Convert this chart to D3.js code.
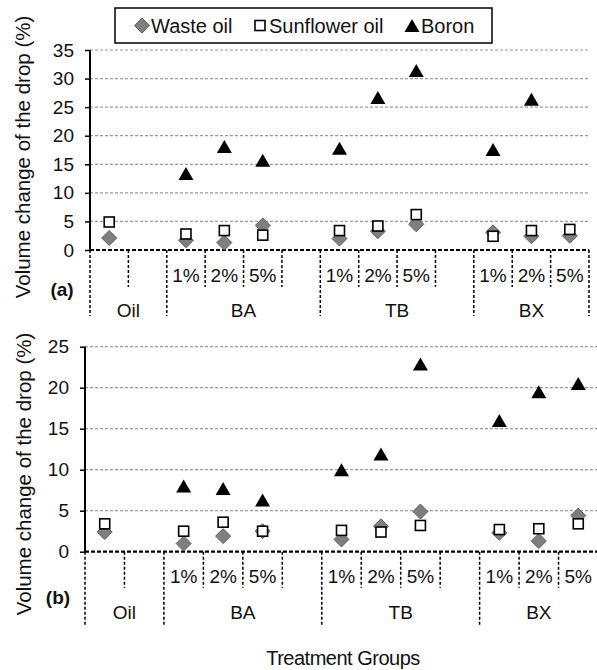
<!DOCTYPE html>
<html>
<head>
<meta charset="utf-8">
<script src="https://cdn.jsdelivr.net/npm/d3@7"></script>
<style>
  body { margin: 0; background: #fff; }
  text { font-family: "Liberation Sans", Arial, sans-serif; fill: #111; }
</style>
</head>
<body>
<div id="chart"></div>
<script>
// category slots of the multi-level axis (blank slots keep the Excel spacing)
var groups = ["Oil", "BA", "TB", "BX"];
var slotGroup = ["Oil", "Oil", "BA", "BA", "BA", "BA", "TB", "TB", "TB", "TB", "BX", "BX", "BX"];
var slotLabel = ["", "", "1%", "2%", "5%", "", "1%", "2%", "5%", "", "1%", "2%", "5%"];

// panel (a)
var wasteA     = [2.1, null, 1.7, 1.3, 4.3, null, 2.0, 3.3, 4.5, null, 3.1, 2.4, 2.5];
var sunflowerA = [4.9, null, 2.8, 3.4, 2.6, null, 3.4, 4.2, 6.2, null, 2.4, 3.4, 3.6];
var boronA     = [null, null, 13.4, 18.1, 15.7, null, 17.8, 26.7, 31.4, null, 17.6, 26.4, null];
var ticksA = [0, 5, 10, 15, 20, 25, 30, 35];

// panel (b)
var wasteB     = [2.4, null, 1.0, 1.9, 2.5, null, 1.5, 3.1, 4.9, null, 2.3, 1.3, 4.4];
var sunflowerB = [3.4, null, 2.5, 3.6, 2.5, null, 2.6, 2.4, 3.2, null, 2.7, 2.8, 3.4];
var boronB     = [null, null, 8.0, 7.7, 6.3, null, 10.0, 11.9, 22.9, null, 16.0, 19.5, 20.5];
var ticksB = [0, 5, 10, 15, 20, 25];

var seriesNames = ["Waste oil", "Sunflower oil", "Boron"];

var svgWidth = 597;
var svgHeight = 670;

var svg = d3.select("#chart")
  .append("svg")
  .attr("width", svgWidth)
  .attr("height", svgHeight);

var slots = d3.range(slotLabel.length);

// 0 = diamond, 1 = square, 2 = triangle (Excel style markers)
function drawMarker(g, type, x, y) {
  if (type == 0) {
    g.append("path")
      .attr("d", "M0,-7.5L7.5,0L0,7.5L-7.5,0Z")
      .attr("transform", `translate(${x},${y})`)
      .attr("fill", "#7f7f7f")
      .attr("stroke", "#5f5f5f")
      .attr("stroke-width", 1);
  } else if (type == 1) {
    g.append("rect")
      .attr("x", x - 5).attr("y", y - 5)
      .attr("width", 10).attr("height", 10)
      .attr("fill", "#fff")
      .attr("stroke", "#000")
      .attr("stroke-width", 1.6);
  } else {
    g.append("path")
      .attr("d", "M0,-6.5L7.5,6.5L-7.5,6.5Z")
      .attr("transform", `translate(${x},${y})`)
      .attr("fill", "#000");
  }
}

function panel(opt) {
  var g = svg.append("g");

  var x = d3.scaleBand()
    .domain(slots)
    .range([opt.left, opt.right])
    .paddingInner(0)
    .paddingOuter(0);

  var y = d3.scaleLinear()
    .domain([0, opt.max])
    .range([opt.bottom, opt.top]);

  // grid lines
  g.append("g")
    .selectAll("line")
    .data(opt.ticks.filter(d => d > 0))
    .enter()
    .append("line")
    .attr("x1", opt.left)
    .attr("x2", opt.right)
    .attr("y1", d => y(d))
    .attr("y2", d => y(d))
    .attr("stroke", "#9a9a9a")
    .attr("stroke-width", 1.2)
    .attr("stroke-dasharray", "3,2");

  // y axis
  var leftAxis = d3.axisLeft(y)
    .tickValues(opt.ticks)
    .tickSize(5)
    .tickPadding(11)
    .tickFormat(d3.format("d"));

  var yAxis = g.append("g")
    .attr("transform", `translate(${opt.left}, 0)`)
    .call(leftAxis);
  yAxis.select(".domain").attr("stroke", "#000").attr("stroke-width", 2)
    .attr("d", `M0,${opt.top}V${opt.bottom}`);
  yAxis.selectAll(".tick line").attr("stroke", "#000").attr("stroke-width", 1.5);
  yAxis.selectAll(".tick text")
    .style("font-family", "'Liberation Sans', Arial, sans-serif")
    .style("font-size", "19px")
    .attr("fill", "#111");

  // x axis line at zero
  g.append("line")
    .attr("x1", opt.left)
    .attr("x2", opt.right)
    .attr("y1", y(0))
    .attr("y2", y(0))
    .attr("stroke", "#000")
    .attr("stroke-width", 2.2)
    .attr("stroke-dasharray", "4,2");

  // category separators, long ones between groups
  var bounds = d3.range(slotLabel.length + 1);
  g.append("g")
    .selectAll("line")
    .data(bounds)
    .enter()
    .append("line")
    .attr("x1", i => i < slotLabel.length ? x(i) : opt.right)
    .attr("x2", i => i < slotLabel.length ? x(i) : opt.right)
    .attr("y1", y(0))
    .attr("y2", i => (i == 0 || i == slotLabel.length || slotGroup[i] != slotGroup[i - 1]) ? y(0) + opt.longTick : y(0) + opt.shortTick)
    .attr("stroke", "#000")
    .attr("stroke-width", 1.5)
    .attr("stroke-dasharray", "3,2");

  // subcategory labels
  g.append("g")
    .selectAll("text")
    .data(slots.filter(i => slotLabel[i] != ""))
    .enter()
    .append("text")
    .attr("x", i => x(i) + x.bandwidth() / 2)
    .attr("y", y(0) + opt.subY)
    .attr("text-anchor", "middle")
    .attr("dominant-baseline", "central")
    .style("font-size", "19px")
    .text(i => slotLabel[i]);

  // group labels
  g.append("g")
    .selectAll("text")
    .data(groups)
    .enter()
    .append("text")
    .attr("x", function(grp) {
      var idx = slots.filter(i => slotGroup[i] == grp);
      var a = x(idx[0]);
      var b = x(idx[idx.length - 1]) + x.bandwidth();
      return (a + b) / 2;
    })
    .attr("y", y(0) + opt.groupY)
    .attr("text-anchor", "middle")
    .attr("dominant-baseline", "central")
    .style("font-size", "19px")
    .text(d => d);

  // panel letter
  g.append("text")
    .attr("x", opt.letterX)
    .attr("y", opt.letterY)
    .attr("text-anchor", "middle")
    .attr("dominant-baseline", "central")
    .style("font-size", "19px")
    .style("font-weight", "bold")
    .text(opt.letter);

  // y label
  g.append("text")
    .attr("transform", `translate(${opt.labelX}, ${opt.labelY}) rotate(-90)`)
    .attr("text-anchor", "middle")
    .attr("dominant-baseline", "central")
    .style("font-size", "20.5px")
    .text("Volume change of the drop (%)");

  // points
  var marks = g.append("g");
  opt.series.forEach(function(values, s) {
    values.forEach(function(v, i) {
      if (v == null) return;
      drawMarker(marks, s, x(i) + x.bandwidth() / 2, y(v));
    });
  });
}

panel({
  left: 90, right: 589, top: 50, bottom: 250, max: 35,
  ticks: ticksA,
  series: [wasteA, sunflowerA, boronA],
  shortTick: 37, longTick: 66, subY: 25, groupY: 60,
  letter: "(a)", letterX: 62, letterY: 289,
  labelX: 22, labelY: 157
});

panel({
  left: 85, right: 598, top: 346.7, bottom: 551.7, max: 25,
  ticks: ticksB,
  series: [wasteB, sunflowerB, boronB],
  shortTick: 36, longTick: 73, subY: 25, groupY: 61,
  letter: "(b)", letterX: 58, letterY: 597,
  labelX: 23, labelY: 474
});

// x title
svg.append("text")
  .attr("x", 343)
  .attr("y", 658)
  .attr("text-anchor", "middle")
  .attr("dominant-baseline", "central")
  .style("font-size", "20px")
  .style("letter-spacing", "-0.5px")
  .text("Treatment Groups");

// legend
var legend = svg.append("g");
legend.append("rect")
  .attr("x", 115).attr("y", 8)
  .attr("width", 377).attr("height", 35)
  .attr("fill", "#fff")
  .attr("stroke", "#000")
  .attr("stroke-width", 1.5);

var legendX = [142, 260, 412];
seriesNames.forEach(function(name, s) {
  drawMarker(legend, s, legendX[s], 25.5);
  legend.append("text")
    .attr("x", legendX[s] + 9)
    .attr("y", 25.5)
    .attr("dominant-baseline", "central")
    .style("font-size", "20px")
    .text(name);
});
</script>
</body>
</html>
